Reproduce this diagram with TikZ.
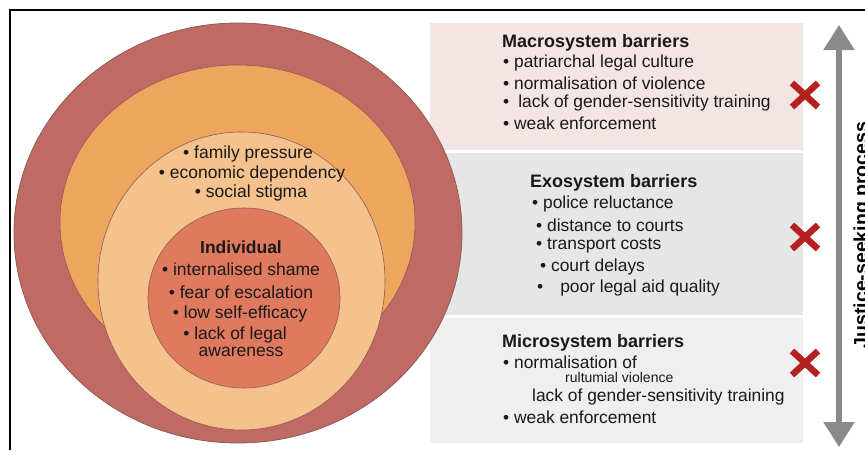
\documentclass[tikz,border=0pt]{standalone}
\usepackage{fontspec}
\setmainfont{Liberation Sans}
\usepackage{xcolor}
\definecolor{outerring}{HTML}{C16964}
\definecolor{midring}{HTML}{EEA65F}
\definecolor{lightring}{HTML}{F5C18C}
\definecolor{innerring}{HTML}{E07A5F}
\definecolor{ringline}{HTML}{8A5E55}
\definecolor{macrofill}{HTML}{F3E5E3}
\definecolor{exofill}{HTML}{E6E6E6}
\definecolor{microfill}{HTML}{EFEFEF}
\definecolor{crossred}{HTML}{B3201F}
\definecolor{arrowgray}{HTML}{8A8A8A}
\usetikzlibrary{arrows.meta}
\usetikzlibrary{positioning}
\usetikzlibrary{calc}

\tikzset{
  txt/.style={font=\fontsize{17.4}{20}\selectfont, inner sep=0pt, anchor=west, text=black!90},
  ctxt/.style={font=\fontsize{17.5}{20}\selectfont, inner sep=0pt, text=black!90},
  head/.style={txt, font=\fontsize{18}{20}\selectfont\bfseries},
  cross/.style={crossred, line width=6.5pt},
}

\begin{document}
\begin{tikzpicture}[x=1pt, y=-1pt]
\useasboundingbox (0,0) rectangle (865,450);
\clip (0,0) rectangle (865,450);
\fill[white] (0,0) rectangle (865,450);

% frame
\draw[line width=2pt] (10,450) -- (10,10) -- (865,10);

% barrier panels
\fill[macrofill] (430,23) rectangle (803,150);
\fill[exofill] (430,153) rectangle (803,315);
\fill[microfill] (430,318) rectangle (803,443);

% rings
\filldraw[fill=outerring, draw=ringline, line width=0.8pt] (238,233) ellipse [x radius=224, y radius=210];
\filldraw[fill=midring, draw=ringline, line width=0.6pt] (237.5,222.5) ellipse [x radius=177.5, y radius=157.5];
\filldraw[fill=lightring, draw=ringline, line width=0.6pt] (241.5,281) ellipse [x radius=143.5, y radius=149];
\filldraw[fill=innerring, draw=ringline, line width=0.6pt] (244,298) ellipse [x radius=96, y radius=90];

% meso text
\node[ctxt] (family) at (248,154) {• family pressure};
\node[ctxt] (economic) at (252,174) {• economic dependency};
\node[ctxt] (stigma) at (251,193) {• social stigma};

% individual
\node[ctxt, font=\fontsize{17.5}{20}\selectfont\bfseries] (indiv) at (241,247) {Individual};
\node[ctxt] (shame) at (241,269) {• internalised shame};
\node[ctxt] (fear) at (241,292) {• fear of escalation};
\node[ctxt] (efficacy) at (240,314) {• low self-efficacy};
\node[ctxt] (legal) at (235,335) {• lack of legal};
\node[ctxt] (aware) at (241,352) {awareness};

% Macrosystem
\node[head] (macrohead) at (502,43) {Macrosystem barriers};
\node[txt] (macroA) at (503,63) {• patriarchal legal culture};
\node[txt] (macroB) at (503,83) {• normalisation of violence};
\node[txt] (macroC) at (503,103) {•\hspace{9pt}lack of gender-sensitivity training};
\node[txt] (macroD) at (503,123) {• weak enforcement};

% Exosystem
\node[head] (exohead) at (530,183) {Exosystem barriers};
\node[txt] (exoA) at (532,204) {• police reluctance};
\node[txt] (exoB) at (536,225) {• distance to courts};
\node[txt] (exoC) at (536,246) {• transport costs};
\node[txt] (exoD) at (540,267) {• court delays};
\node[txt] (exoE) at (537,288) {•\hspace{17pt}poor legal aid quality};

% Microsystem
\node[head] (microhead) at (502,343) {Microsystem barriers};
\node[txt] (microA) at (503,362) {• normalisation of};
\node[txt, font=\fontsize{14}{16}\selectfont] (microA2) at (565,377) {rultumial violence};
\node[txt] (microB) at (532,397) {lack of gender-sensitivity training};
\node[txt] (microC) at (503,417) {• weak enforcement};

% crosses
\foreach \cy/\cn in {95/macrox, 237/exox, 363/microx} {
  \coordinate (\cn) at (805,\cy);
  \draw[cross] ($(\cn)+(-13,-12)$) -- ($(\cn)+(13,12)$);
  \draw[cross] ($(\cn)+(-13,12)$) -- ($(\cn)+(13,-12)$);
}

% justice-seeking arrow
\coordinate (arrtop) at (839,25);
\coordinate (arrbot) at (839,447);
\draw[arrowgray, line width=5.5pt, {Triangle[width=30pt,length=25pt]}-{Triangle[width=30pt,length=25pt]}] (arrtop) -- (arrbot);
\node[rotate=90, anchor=base, inner sep=0pt, font=\fontsize{19.5}{22}\selectfont\bfseries] (process) at (867.5,235) {Justice-seeking process};

\end{tikzpicture}
\end{document}
